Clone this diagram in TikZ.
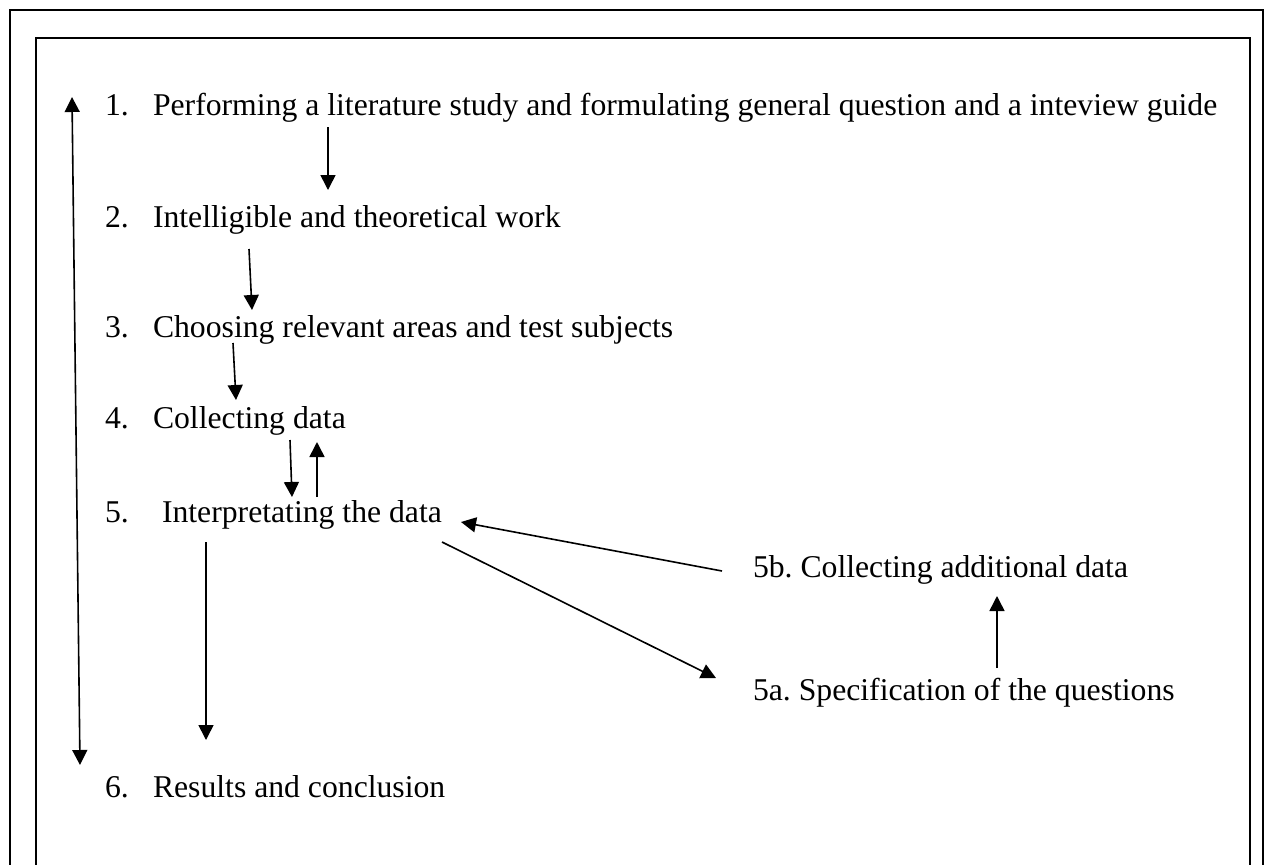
\documentclass[tikz,border=0pt]{standalone}
\usepackage{fontspec}
\setmainfont{Liberation Serif}
\usetikzlibrary{arrows.meta}
\begin{document}
\frenchspacing
\begin{tikzpicture}[x=0.5pt,y=-0.5pt,
  lbl/.style={anchor=base west,inner sep=0pt,outer sep=0pt,font=\fontsize{15.85pt}{19pt}\selectfont},
  frameline/.style={line width=1pt},
  conn/.style={line width=0.8pt,-{Triangle[width=7.5pt,length=7.5pt]}},
  bconn/.style={line width=0.8pt,{Triangle[width=7.5pt,length=7.5pt]}-{Triangle[width=7.5pt,length=7.5pt]}}]
\useasboundingbox (0,0) rectangle (1265,864);
\begin{scope}
\clip (0,0) rectangle (1265,864);
\draw[frameline] (10,880) -- (10,10) -- (1263,10) -- (1263,880);
\draw[frameline] (36,880) -- (36,38) -- (1250,38) -- (1250,880);
\end{scope}
% numbers
\node[lbl] (n1) at (105,115) {1.};
\node[lbl] (n2) at (105,227) {2.};
\node[lbl] (n3) at (105,337) {3.};
\node[lbl] (n4) at (105,428) {4.};
\node[lbl] (n5) at (105,522) {5.};
\node[lbl] (n6) at (105,797) {6.};
% texts
\node[lbl] (t1) at (153,115) {Performing a literature study and formulating general question and a inteview guide};
\node[lbl] (t2) at (153,227) {Intelligible and theoretical work};
\node[lbl] (t3) at (153,337) {Choosing relevant areas and test subjects};
\node[lbl] (t4) at (153,428) {Collecting data};
\node[lbl] (t5) at (162,522) {Interpretating the data};
\node[lbl] (t6) at (153,797) {Results and conclusion};
\node[lbl] (t5b) at (753,577) {5b. Collecting additional data};
\node[lbl] (t5a) at (753,700) {5a. Specification of the questions};
% connector end points
\coordinate (L1) at (72,97);
\coordinate (L6) at (80,765);
\coordinate (a12s) at (328,127);
\coordinate (a12e) at (328,190);
\coordinate (a23s) at (249,249);
\coordinate (a23e) at (252,310);
\coordinate (a34s) at (233,343);
\coordinate (a34e) at (236,400);
\coordinate (a45s) at (290,440);
\coordinate (a45e) at (292,497);
\coordinate (a54s) at (317,497);
\coordinate (a54e) at (317,442);
\coordinate (a56s) at (206,542);
\coordinate (a56e) at (206,740);
\coordinate (ab5s) at (722,571);
\coordinate (ab5e) at (461,522);
\coordinate (a5as) at (442,542);
\coordinate (a5ae) at (716,678);
\coordinate (aabs) at (997,668);
\coordinate (aabe) at (997,596);
% connectors
\draw[bconn] (L1) -- (L6);
\draw[conn] (a12s) -- (a12e);
\draw[conn] (a23s) -- (a23e);
\draw[conn] (a34s) -- (a34e);
\draw[conn] (a45s) -- (a45e);
\draw[conn] (a54s) -- (a54e);
\draw[conn] (a56s) -- (a56e);
\draw[conn] (ab5s) -- (ab5e);
\draw[conn] (a5as) -- (a5ae);
\draw[conn] (aabs) -- (aabe);
\end{tikzpicture}
\end{document}
